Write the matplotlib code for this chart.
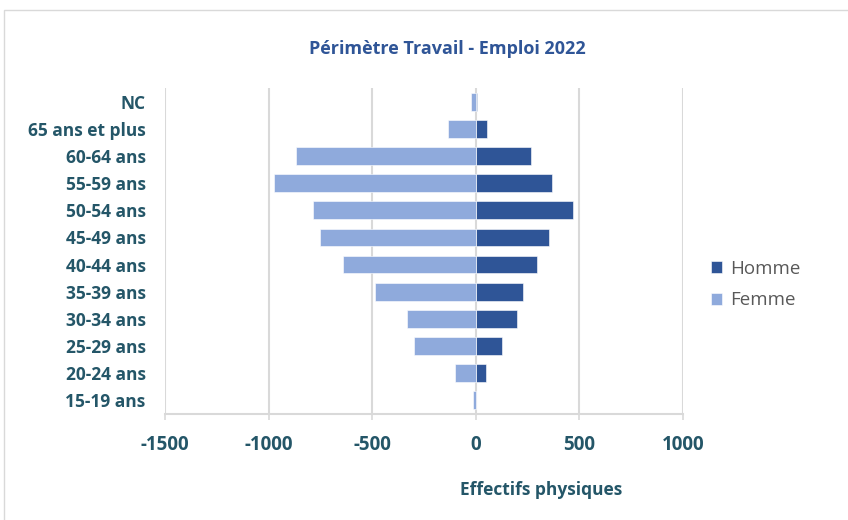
import matplotlib.pyplot as plt
from matplotlib.patches import Rectangle
import numpy as np

categories = ['15-19 ans', '20-24 ans', '25-29 ans', '30-34 ans', '35-39 ans',
              '40-44 ans', '45-49 ans', '50-54 ans', '55-59 ans', '60-64 ans',
              '65 ans et plus', 'NC']
homme = [2, 48, 127, 199, 228, 296, 354, 470, 368, 265, 56, 8]
femme = [-13, -100, -300, -334, -487, -641, -753, -788, -974, -868, -134, -23]
xticks = [-1500, -1000, -500, 0, 500, 1000]

text_col = '#245668'
plt.rcParams['font.family'] = ['Open Sans', 'DejaVu Sans']

fig = plt.figure(figsize=(8.48, 5.2), dpi=100)
ax = fig.add_axes([0.1946, 0.2038, 0.6108, 0.627])

y = np.arange(len(categories))
ax.barh(y, homme, height=0.66, color='#2F5597', edgecolor='white', linewidth=0.4, label='Homme', zorder=3)
ax.barh(y, femme, height=0.66, color='#8FAADC', edgecolor='white', linewidth=0.4, label='Femme', zorder=3)

ax.set_xlim(-1500, 1000)
ax.set_ylim(-0.52, len(categories) - 0.48)
ax.set_xticks(xticks)
ax.set_xticklabels([str(t) for t in xticks], fontsize=13.5, fontweight='bold', color=text_col)
ax.set_yticks(y)
ax.set_yticklabels(categories, fontsize=12.5, fontweight='bold', color=text_col)
ax.tick_params(axis='y', length=0, pad=14)
ax.tick_params(axis='x', length=4, color='#D9D9D9', width=1.2, pad=11)
ax.grid(axis='x', color='#D9D9D9', linewidth=1.5, zorder=0)
for s in ['top', 'right', 'left']:
    ax.spines[s].set_visible(False)
ax.spines['bottom'].set_color('#D9D9D9')
ax.spines['bottom'].set_linewidth(1.5)

fig.text(0.527, 0.906, 'Périmètre Travail - Emploi 2022', ha='center', va='center',
         fontsize=13, fontweight='bold', color='#2F5597')
fig.text(0.638, 0.058, 'Effectifs physiques', ha='center', va='center',
         fontsize=12.5, fontweight='bold', color=text_col)

leg = fig.legend(loc='center left', bbox_to_anchor=(0.818, 0.453), frameon=False,
                 fontsize=13.5, handlelength=0.6, handleheight=0.6, labelspacing=0.72,
                 handletextpad=0.45)
for t in leg.get_texts():
    t.set_color('#595959')

fig.patches.append(Rectangle((0.005, -0.01), 1.2, 0.99, transform=fig.transFigure,
                             fill=False, edgecolor='#D9D9D9', linewidth=1))

fig.savefig('out.png', dpi=100)
